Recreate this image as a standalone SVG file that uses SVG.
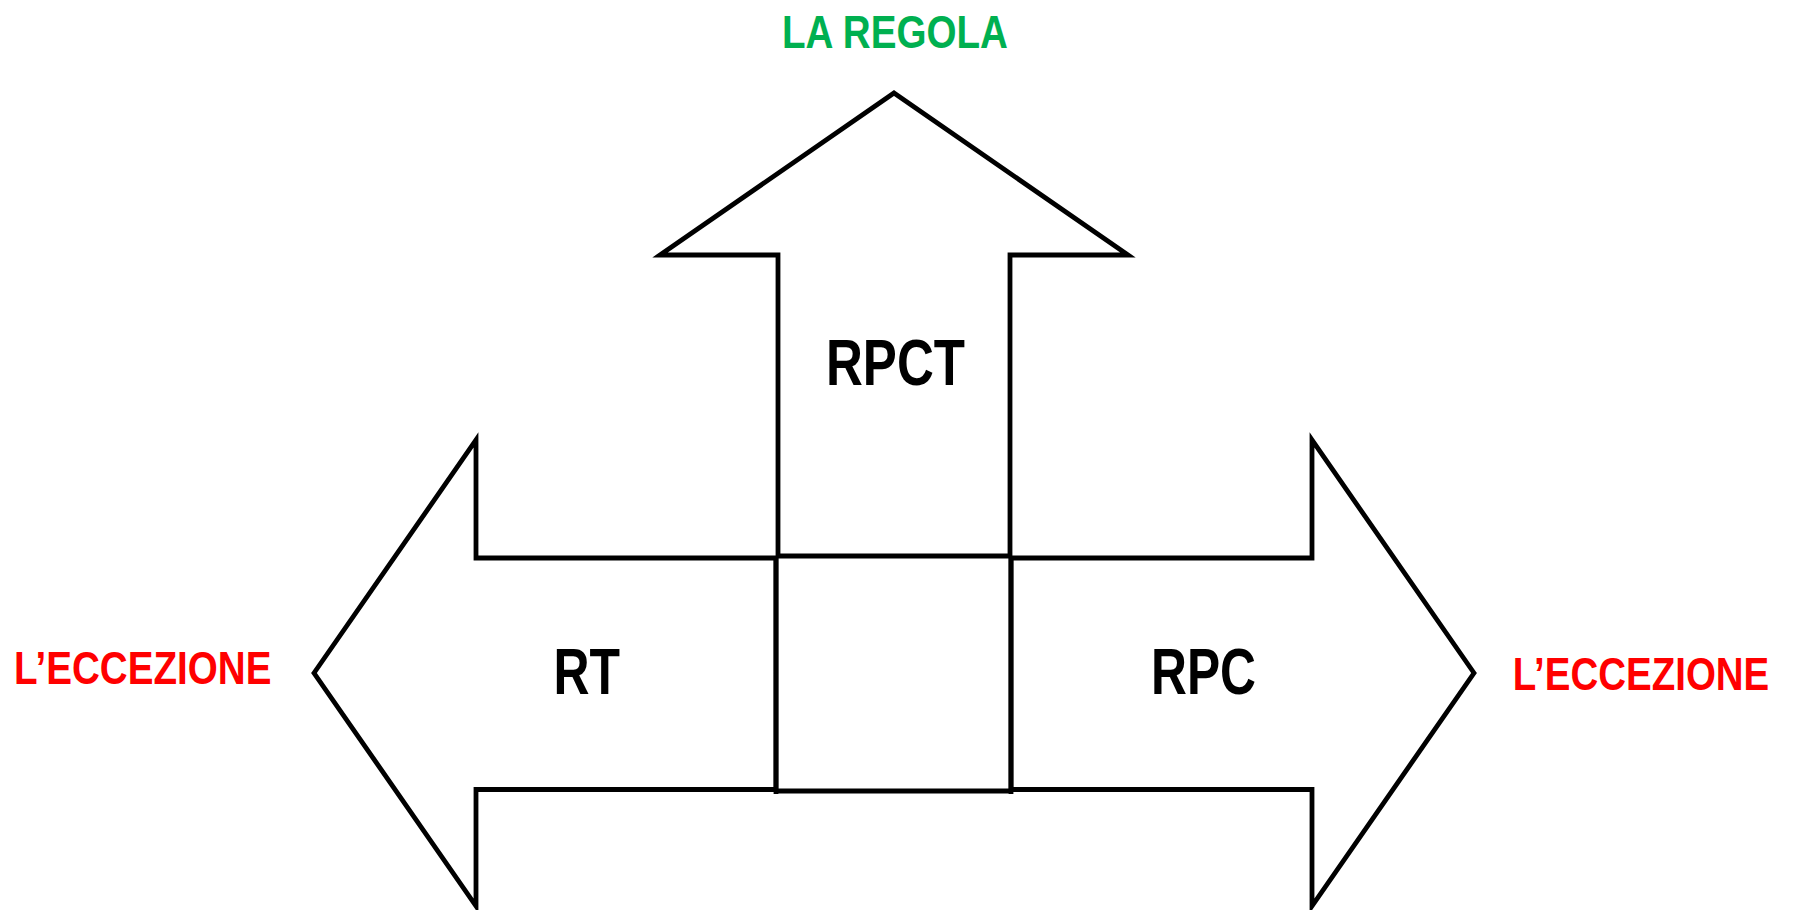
<svg xmlns="http://www.w3.org/2000/svg" width="1793" height="910" viewBox="0 0 1793 910">
<style>
.arrow{fill:#fff;stroke:#000;stroke-width:4.8;stroke-linejoin:miter;stroke-miterlimit:10}
.t{font-family:"Liberation Sans",Arial,sans-serif;font-weight:bold}
.lbl{fill:#000;font-size:64px}
.red{fill:#ff0000;font-size:47px}
.green{fill:#00b050;font-size:47px}
</style>
<rect width="1793" height="910" fill="#fff"/>
<g id="rpct">
<polygon class="arrow" points="894,93 1128,255 1010,255 1010,556 778,556 778,255 660,255"/>
<text class="t lbl" x="0" y="0" transform="translate(826,385) scale(0.82,1)" textLength="169.5" lengthAdjust="spacingAndGlyphs">RPCT</text>
</g>
<g id="rt">
<polygon class="arrow" points="314,673 476,440 476,558 776,558 776,789.5 476,789.5 476,906"/>
<text class="t lbl" x="0" y="0" transform="translate(553.5,693.5) scale(0.82,1)" textLength="81.1" lengthAdjust="spacingAndGlyphs">RT</text>
</g>
<g id="rpc">
<polygon class="arrow" points="1474,673 1312,440 1312,558 1011,558 1011,789.5 1312,789.5 1312,906"/>
<text class="t lbl" x="0" y="0" transform="translate(1151,694) scale(0.82,1)" textLength="128" lengthAdjust="spacingAndGlyphs">RPC</text>
</g>
<g id="connectors">
<line x1="776" y1="791" x2="1011" y2="791" stroke="#000" stroke-width="4.8"/>
<line x1="776" y1="556" x2="776" y2="794" stroke="#000" stroke-width="4.8"/>
<line x1="1011" y1="556" x2="1011" y2="794" stroke="#000" stroke-width="4.8"/>
</g>
<g id="labels">
<text class="t green" x="0" y="0" transform="translate(782,47.7) scale(0.82,1)" textLength="275.6" lengthAdjust="spacingAndGlyphs">LA REGOLA</text>
<text class="t red" x="0" y="0" transform="translate(14,684.3) scale(0.82,1)" textLength="314" lengthAdjust="spacingAndGlyphs">L’ECCEZIONE</text>
<text class="t red" x="0" y="0" transform="translate(1512.7,690) scale(0.82,1)" textLength="312.9" lengthAdjust="spacingAndGlyphs">L’ECCEZIONE</text>
</g>
</svg>
